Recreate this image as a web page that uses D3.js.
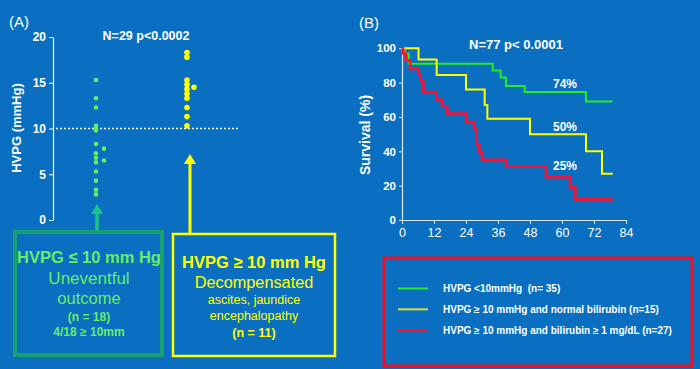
<!DOCTYPE html>
<html>
<head>
<meta charset="utf-8">
<script src="https://cdn.jsdelivr.net/npm/d3@7"></script>
<style>
body { margin:0; background:#0a6fc0; }
svg { display:block; font-family: Arial, "Liberation Sans", sans-serif; }
text { white-space: pre; }
</style>
</head>
<body>
<script>
// panel A: HVPG dots
var greenMain = [15.3,13.3,12.3,10.3,10.0,9.8,8.3,7.3,6.8,6.3,5.3,4.3,3.3,2.8];
var greenSide = [7.8,6.5];
var yellowMain = [18.3,17.8,15.3,14.8,14.3,13.8,13.3,12.3,11.3,10.3];
var yellowSide = [14.5];
var hvpgTicks = [0,5,10,15,20];

// panel B: survival curves (months, %)
var greenT = [0,1,2.5,34,37,39,46,69,79];
var greenS = [100,97,91,87,83,78,74.5,69,69];
var yellowT = [0,6.2,13,24,31,32,48,69,75,79];
var yellowS = [100,93.5,84.5,76,67,59,50,40,27,27];
var redT = [0,0.4,1.4,3,6.2,7,8,13,15,17,24,27,28,29,30,39,54,63,65,79];
var redS = [100,97,93,88,85,81,74.5,70,66,62,57,53,44,39,35,31,25,19,12,12];
var monthTicks = [0,12,24,36,48,60,72,84];
var survTicks = [0,20,40,60,80,100];
var endLabels = ["74%","50%","25%"];
var endLabelVals = [79,54,31.5];
var legendNames = ["HVPG <10mmHg  (n= 35)","HVPG \u2265 10 mmHg and normal bilirubin (n=15)","HVPG \u2265 10 mmHg and bilirubin \u2265 1 mg/dL (n=27)"];

var W = 700, H = 369;
var cGreen = "#22ee22", cYellow = "#ffff00", cRed = "#ff1030";

var svg = d3.select("body").append("svg").attr("width",W).attr("height",H);
svg.append("rect").attr("width",W).attr("height",H).attr("fill","#0a6fc0");

// ---------- panel A ----------
var yA = d3.scaleLinear().domain([0,20]).range([220,37]);
var axA = svg.append("g").attr("transform","translate(53,0)")
  .call(d3.axisLeft(yA).tickValues(hvpgTicks).tickSize(4).tickSizeOuter(0));
axA.select(".domain").attr("stroke","#fff").attr("stroke-width",1.2);
axA.selectAll(".tick line").attr("stroke","#fff");
axA.selectAll(".tick text").attr("fill","#fff").attr("font-size","12px").attr("font-weight","bold").attr("x",-7);

svg.append("text").text("(A)").attr("x",9).attr("y",27).attr("fill","#fff").attr("font-size","15px");
svg.append("text").text("HVPG (mmHg)").attr("transform","translate(21,128) rotate(-90)")
  .attr("text-anchor","middle").attr("fill","#fff").attr("font-size","13px").attr("font-weight","bold");
svg.append("text").text("N=29 p<0.0002").attr("x",146).attr("y",40).attr("text-anchor","middle")
  .attr("fill","#fff").attr("font-size","12.5px").attr("font-weight","bold");

svg.append("line").attr("x1",56).attr("x2",240).attr("y1",yA(10)).attr("y2",yA(10))
  .attr("stroke","#fff").attr("stroke-width",1.5).attr("stroke-dasharray","2,2");

function dots(data, x, r, col){
  svg.append("g").selectAll("circle").data(data).enter().append("circle")
    .attr("cx",x).attr("cy",function(d){return yA(d);}).attr("r",r).attr("fill",col);
}
dots(greenMain,96,2.3,"#66ee66");
dots(greenSide,104,2.3,"#66ee66");
dots(yellowMain,187,2.8,"#ffff00");
dots(yellowSide,194,2.8,"#ffff00");

// arrows
function arrow(x, yTip, yEnd, col, w, hw){
  svg.append("line").attr("x1",x).attr("x2",x).attr("y1",yTip+8).attr("y2",yEnd)
    .attr("stroke",col).attr("stroke-width",w);
  svg.append("path").attr("d","M"+(x-hw)+","+(yTip+10)+"L"+x+","+yTip+"L"+(x+hw)+","+(yTip+10)+"Z").attr("fill",col);
}
arrow(97,204,231,"#18c488",3.5,6);
arrow(190,154,233,"#ffff00",3,6);

// boxes
svg.append("rect").attr("x",15).attr("y",232).attr("width",147).attr("height",123)
  .attr("fill","none").attr("stroke","#17a070").attr("stroke-width",4);
svg.append("rect").attr("x",173).attr("y",234).attr("width",162).attr("height",122)
  .attr("fill","none").attr("stroke","#ffff00").attr("stroke-width",2.5);

function boxText(lines, x, col){
  lines.forEach(function(l){
    svg.append("text").text(l[0]).attr("x",x).attr("y",l[1]).attr("text-anchor","middle")
      .attr("fill",col).attr("font-size",l[2]+"px").attr("font-weight",l[3]?"bold":"normal");
  });
}
boxText([["HVPG \u2264 10 mm Hg",263,16.5,true],["Uneventful",284,17,false],["outcome",304,16.5,false],
  ["(n = 18)",321,12,true],["4/18 \u2265 10mm",336,12,true]],89,"#66ee66");
boxText([["HVPG \u2265 10 mm Hg",268,16.5,true],["Decompensated",288,16.3,false],["ascites, jaundice",304,12.5,false],
  ["encephalopathy",320,12.5,false],["(n = 11)",337,12.5,true]],254,"#ffff00");

// ---------- panel B ----------
var xB = d3.scaleLinear().domain([0,84]).range([402,626]);
var yB = d3.scaleLinear().domain([0,100]).range([220,48.3]);

var axX = svg.append("g").attr("transform","translate(0,220)")
  .call(d3.axisBottom(xB).tickValues(monthTicks).tickSize(4).tickSizeOuter(0));
var axY = svg.append("g").attr("transform","translate(402,0)")
  .call(d3.axisLeft(yB).tickValues(survTicks).tickSize(3).tickSizeOuter(0));
[axX,axY].forEach(function(a){
  a.select(".domain").attr("stroke","#d8e8ff").attr("stroke-width",1.2);
  a.selectAll(".tick line").attr("stroke","#d8e8ff");
  a.selectAll(".tick text").attr("fill","#fff").attr("font-size","11.5px").attr("font-weight","bold");
});
axX.selectAll(".tick text").attr("font-weight","normal").attr("font-size","12.5px").attr("y",8);

svg.append("text").text("(B)").attr("x",359).attr("y",28).attr("fill","#fff").attr("font-size","15px");
svg.append("text").text("Survival (%)").attr("transform","translate(370,135) rotate(-90)")
  .attr("text-anchor","middle").attr("fill","#fff").attr("font-size","14px").attr("font-weight","bold");
svg.append("text").text("N=77 p< 0.0001").attr("x",516).attr("y",49).attr("text-anchor","middle")
  .attr("fill","#fff").attr("font-size","13px").attr("font-weight","bold");

var line = d3.line().x(function(d){return xB(d[0]);}).y(function(d){return yB(d[1]);}).curve(d3.curveStepAfter);
function km(T, S, col, w){
  svg.append("path").datum(d3.zip(T,S)).attr("d",line).attr("fill","none")
    .attr("stroke",col).attr("stroke-width",w);
}
km(greenT,greenS,cGreen,2);
km(yellowT,yellowS,cYellow,2);
km(redT,redS,cRed,2.6);

svg.selectAll(".endlab").data(endLabels).enter().append("text")
  .text(function(d){return d;}).attr("x",565).attr("y",function(d,i){return yB(endLabelVals[i])+4;})
  .attr("text-anchor","middle").attr("fill","#fff").attr("font-size","12px").attr("font-weight","bold");

// legend
svg.append("rect").attr("x",384).attr("y",258).attr("width",308).attr("height",108)
  .attr("fill","none").attr("stroke","#ee1122").attr("stroke-width",3);
var legCols = [cGreen,"#dddd33",cRed];
legendNames.forEach(function(n,i){
  var y = 288.5 + i*20.8;
  svg.append("line").attr("x1",398).attr("x2",428).attr("y1",y).attr("y2",y)
    .attr("stroke",legCols[i]).attr("stroke-width",2);
  svg.append("text").text(n).attr("x",443).attr("y",y+3.5).attr("fill","#fff")
    .attr("font-size","10px").attr("font-weight","bold");
});
</script>
</body>
</html>
